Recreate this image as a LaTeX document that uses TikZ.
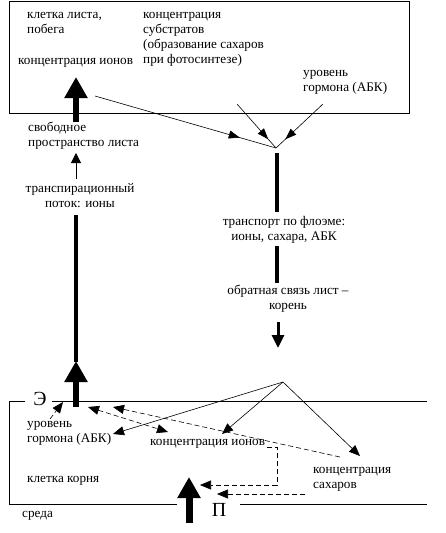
\documentclass[tikz,border=0pt]{standalone}
\usepackage{fontspec}
\setmainfont{Liberation Serif}
\usetikzlibrary{arrows.meta,decorations.markings,positioning}

\begin{document}
\begin{tikzpicture}[x=1pt,y=-1pt]

% Define styles (base anchor = last line of a node)
\tikzstyle{txt} = [inner sep=0pt, anchor=base west, align=left, font=\fontsize{13.2}{15}\selectfont]
\tikzstyle{ctxt} = [inner sep=0pt, anchor=base, align=center, font=\fontsize{13.2}{15}\selectfont]
\tikzstyle{bigletter} = [inner sep=0pt, font=\fontsize{20}{20}\selectfont]
\tikzstyle{bigarrow} = [line width=6.5pt, -{Triangle[width=22pt,length=21pt]}]
\tikzstyle{bar} = [line width=4.5pt]
\tikzstyle{smallarrow} = [line width=0.8pt, -{Triangle[width=10pt,length=10pt]}]
\tikzstyle{thinarrow} = [line width=0.6pt, -{Triangle[width=9pt,length=11pt]}]
\tikzstyle{dasharrow} = [thinarrow, dash pattern=on 5pt off 3pt]
\tikzstyle{midarrow} = [line width=0.6pt, postaction={decorate},
  decoration={markings, mark=at position 0.8 with {\arrow{Triangle[width=8pt,length=11pt]}}}]

\useasboundingbox (0,0) rectangle (445,533);

% Leaf cell
\draw[line width=0.8pt] (9,1) rectangle (409,113);
\node[txt] (leafcell) at (27,33) {клетка листа,\\побега};
\node[txt] (substr) at (143,63) {концентрация\\субстратов\\(образование сахаров\\при фотосинтезе)};
\node[txt] (leafions) at (18,64) {концентрация ионов};
\node[txt] (leafhorm) at (303,91) {уровень\\гормона (АБК)};

% Transport path labels
\node[txt] (apoplast) at (28,146) {свободное\\пространство листа};
\node[ctxt] (xylem) at (80,207) {транспирационный\\поток: ионы};
\node[ctxt] (phloem) at (284,240) {транспорт по флоэме:\\ионы, сахара, АБК};
\node[ctxt] (feedback) at (288,309) {обратная связь лист –\\корень};

% Root cell
\draw[line width=0.8pt] (25,401) -- (9,401) -- (9,504) -- (177,504);
\draw[line width=0.8pt] (52,401) -- (427,401);
\draw[line width=0.8pt] (240,504) -- (427,504);
\node[bigletter] (E) at (40,399) {Э};
\node[bigletter] (P) at (219,510) {П};
\node[txt] (roothorm) at (27,442) {уровень\\гормона (АБК)};
\node[txt] (rootions) at (150,445) {концентрация ионов};
\node[txt] (rootcell) at (27,482) {клетка корня};
\node[txt] (rootsugar) at (313,488) {концентрация\\сахаров};
\node[txt] (medium) at (22,517) {среда};

% Coordinates
\coordinate (xyltop) at (76,77);
\coordinate (xylleaf) at (76,122);
\coordinate (apotip) at (76,153);
\coordinate (apofoot) at (76,179);
\coordinate (xylup) at (76,215);
\coordinate (xylhead) at (76,362);
\coordinate (roottip) at (76,361);
\coordinate (rootfoot) at (76,407);
\coordinate (ionsrc) at (95,96);
\coordinate (substrsrc) at (237,104);
\coordinate (hormsrc) at (323,104);
\coordinate (merge) at (276,148);
\coordinate (phl1a) at (277,153);
\coordinate (phl1b) at (277,212);
\coordinate (phl2a) at (277,246);
\coordinate (phl2b) at (277,283);
\coordinate (fbtop) at (278,322);
\coordinate (fbtip) at (278,348);
\coordinate (fork) at (283,382);
\coordinate (horm_in) at (113,434);
\coordinate (ions_in) at (222,434);
\coordinate (sugar_in) at (360,456);
\coordinate (hormdash) at (50,419);
\coordinate (Etip) at (63,402);
\coordinate (xyl_a) at (88,407);
\coordinate (xyl_b) at (168,432);
\coordinate (sugdash) at (340,457);
\coordinate (xyl_c) at (113,407);
\coordinate (ionsout) at (267,447);
\coordinate (elbow1) at (277,447);
\coordinate (elbow2) at (277,485);
\coordinate (uptake1) at (200,485);
\coordinate (sugout) at (305,494);
\coordinate (uptake2) at (217,494);
\coordinate (upfoot) at (189,523);
\coordinate (uptip) at (189,477);

% Arrows
\draw[bigarrow] (xylleaf) -- (xyltop);
\draw[smallarrow] (apofoot) -- (apotip);
\draw[line width=3.5pt] (xylup) -- (xylhead);
\draw[bigarrow] (rootfoot) -- (roottip);

\draw[midarrow] (ionsrc) -- (merge);
\draw[midarrow] (substrsrc) -- (merge);
\draw[midarrow] (hormsrc) -- (merge);
\draw[bar] (phl1a) -- (phl1b);
\draw[bar] (phl2a) -- (phl2b);
\draw[line width=3pt, -{Triangle[width=12pt,length=13pt]}] (fbtop) -- (fbtip);

\draw[thinarrow] (fork) -- (horm_in);
\draw[thinarrow] (fork) -- (ions_in);
\draw[thinarrow] (fork) -- (sugar_in);

\draw[dasharrow] (hormdash) -- (Etip);
\draw[dasharrow, {Triangle[width=9pt,length=11pt]}-{Triangle[width=9pt,length=11pt]}] (xyl_a) -- (xyl_b);
\draw[dasharrow] (sugdash) -- (xyl_c);
\draw[dasharrow] (ionsout) -- (elbow1) -- (elbow2) -- (uptake1);
\draw[dasharrow] (sugout) -- (uptake2);
\draw[line width=7pt, -{Triangle[width=22pt,length=21pt]}] (upfoot) -- (uptip);

\end{tikzpicture}
\end{document}
